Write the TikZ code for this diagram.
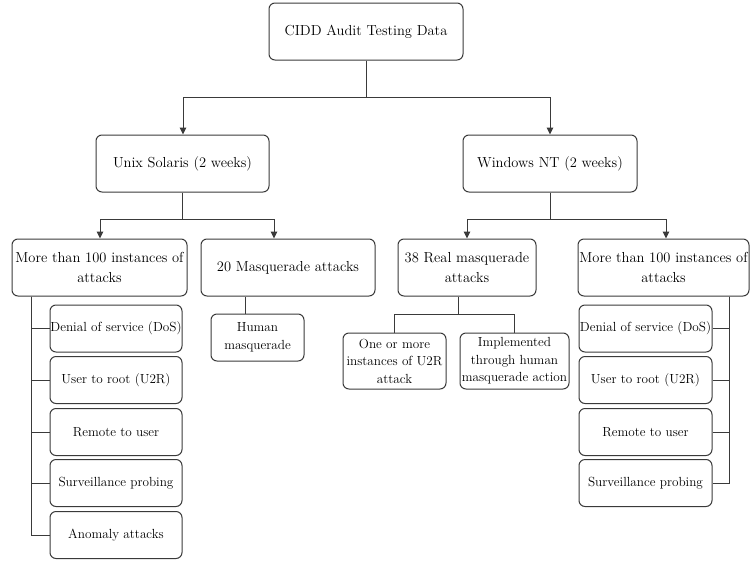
\documentclass[tikz,border=0pt]{standalone}
\usetikzlibrary{arrows.meta}
\definecolor{ln}{HTML}{3A3A3A}
\tikzset{
  bx/.style={draw=ln, line width=1pt, rounded corners=6pt, inner sep=0pt, align=center, text=black},
  big/.style={bx, font=\fontsize{14.5}{20}\selectfont, minimum height=57pt},
  kid/.style={bx, font=\fontsize{13.2}{17}\selectfont, minimum height=47pt},
  sml/.style={bx, font=\fontsize{13.2}{17.5}\selectfont},
  con/.style={draw=ln, line width=1pt},
  arr/.style={con, -{Triangle[length=7pt,width=6.5pt]}},
}
\begin{document}
\begin{tikzpicture}[x=1pt,y=-1pt]
\useasboundingbox (0,0) rectangle (750,560);
% level 0-1
\node[big, minimum width=194pt] (root) at (366,31.5) {CIDD Audit Testing Data};
\node[big, minimum width=173pt] (unix) at (182.5,163.5) {Unix Solaris (2 weeks)};
\node[big, minimum width=174pt] (win) at (550,163.5) {Windows NT (2 weeks)};
% level 2
\node[big, minimum width=175pt] (lmore) at (99.5,267.5) {More than 100 instances of\\attacks};
\node[big, minimum width=174pt] (masq) at (288,267.5) {20 Masquerade attacks};
\node[big, minimum width=138pt] (real) at (467,267.5) {38 Real masquerade\\attacks};
\node[big, minimum width=171pt] (rmore) at (663.5,267.5) {More than 100 instances of\\attacks};
% left children
\node[kid, minimum width=132pt] (ldos) at (116,328.5) {Denial of service (DoS)};
\node[kid, minimum width=132pt] (lu2r) at (116,380) {User to root (U2R)};
\node[kid, minimum width=132pt] (lrem) at (116,432) {Remote to user};
\node[kid, minimum width=132pt] (lsur) at (116,483) {Surveillance probing};
\node[kid, minimum width=132pt] (lano) at (116,535) {Anomaly attacks};
% right children
\node[kid, minimum width=133pt] (rdos) at (645.5,328.5) {Denial of service (DoS)};
\node[kid, minimum width=133pt] (ru2r) at (645.5,380) {User to root (U2R)};
\node[kid, minimum width=133pt] (rrem) at (645.5,432) {Remote to user};
\node[kid, minimum width=133pt] (rsur) at (645.5,483) {Surveillance probing};
% masquerade children
\node[sml, minimum width=93pt, minimum height=47pt] (human) at (257.5,337.5) {Human\\masquerade};
\node[sml, minimum width=103pt, minimum height=56pt] (oneu2r) at (394.5,361) {One or more\\instances of U2R\\attack};
\node[sml, minimum width=109pt, minimum height=56pt] (impl) at (514.5,361) {Implemented\\through human\\masquerade action};
% connectors with arrows
\draw[arr] (root.south) -- ++(0,37) -| ([xshift=0.5pt]unix.north);
\draw[arr] (root.south) -- ++(0,37) -| (win.north);
\draw[arr] (unix.south) -- ++(0,27) -| ([xshift=0.5pt]lmore.north);
\draw[arr] (unix.south) -- ++(0,27) -| ([xshift=-14pt]masq.north);
\draw[arr] (win.south) -- ++(0,27) -| (real.north);
\draw[arr] (win.south) -- ++(0,27) -| ([xshift=2.5pt]rmore.north);
% plain connectors
\coordinate (lbus) at ([xshift=20pt]lmore.south west);
\foreach \c in {ldos,lu2r,lrem,lsur,lano} \draw[con] (lbus) |- (\c.west);
\coordinate (rbus) at ([xshift=-20pt]rmore.south east);
\foreach \c in {rdos,ru2r,rrem,rsur} \draw[con] (rbus) |- (\c.east);
\draw[con] ([xshift=-12.5pt]human.north) -- ([xshift=-12.5pt]human.north |- masq.south);
\draw[con] ([xshift=-9pt]real.south) -- ++(0,18) -| (oneu2r.north);
\draw[con] ([xshift=-9pt]real.south) -- ++(0,18) -| (impl.north);
\end{tikzpicture}
\end{document}
